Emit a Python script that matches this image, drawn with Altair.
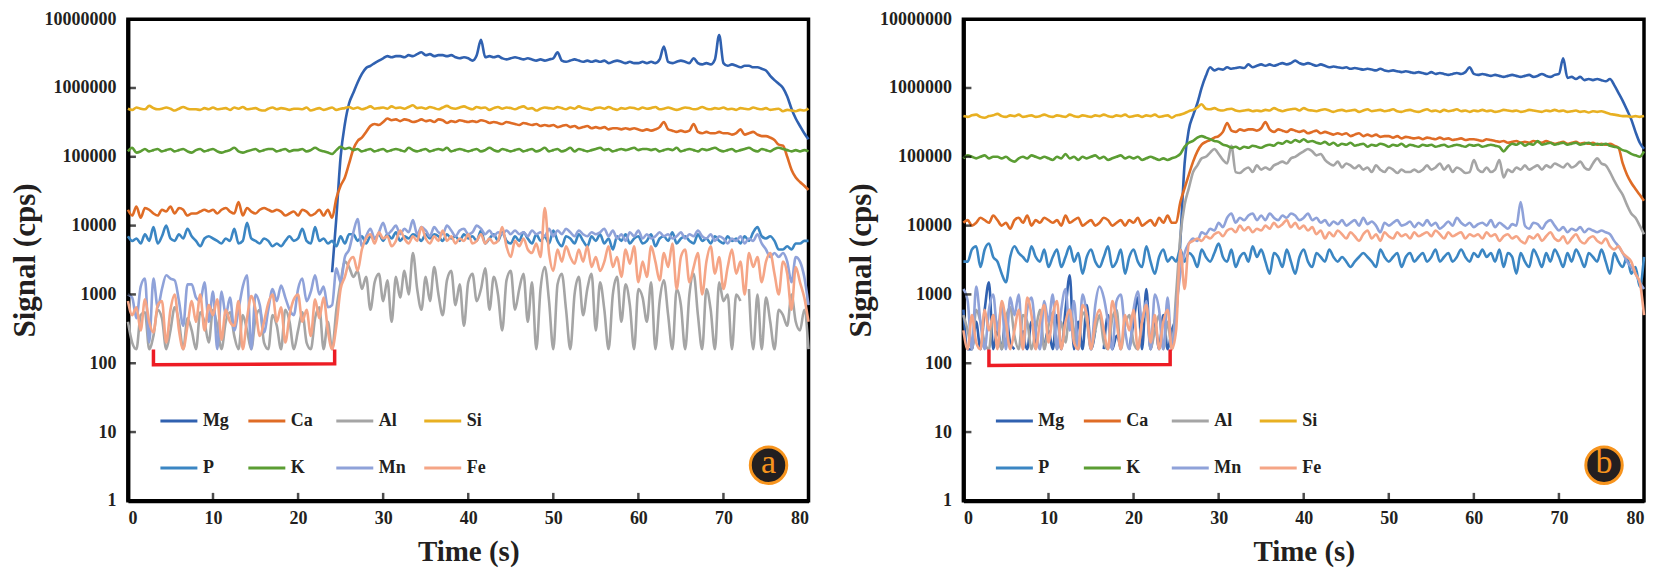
import altair as alt
import pandas as pd

FONT = "Liberation Serif"
ELS = ["Mg", "Ca", "Al", "Si", "P", "K", "Mn", "Fe"]
COLS = ["#3061b0", "#df6c26", "#a5a5a5", "#e8b022", "#3b86c3", "#5b9d33", "#8fa2d9", "#f5a586"]
T = [i * 0.5 for i in range(161)]
X_TICKS = [0, 10, 20, 30, 40, 50, 60, 70, 80]
Y_TICKS = [1, 10, 100, 1000, 10000, 100000, 1000000, 10000000]
X_INNER = [10, 20, 30, 40, 50, 60, 70]
Y_INNER = [10, 100, 1000, 10000, 100000, 1000000]

# ---------------- panel a ----------------
MG_A = [
    None, None, None, None, None, None, None, None, None, None,
    None, None, None, None, None, None, None, None, None, None,
    None, None, None, None, None, None, None, None, None, None,
    None, None, None, None, None, None, None, None, None, None,
    None, None, None, None, None, None, None, None, 2.1e3, 1.3e4,
    1.0e5, 3.0e5, 6.0e5, 8.5e5, 1.2e6, 1.6e6, 1.95e6, 2.1e6, 2.3e6, 2.5e6,
    2.7e6, 2.9e6, 2.8e6, 2.9e6, 2.9e6, 2.8e6, 3.0e6, 2.9e6, 3.1e6, 3.3e6,
    3.0e6, 3.1e6, 2.9e6, 3.0e6, 3.0e6, 2.9e6, 3.0e6, 2.8e6, 2.7e6, 2.8e6,
    2.7e6, 2.5e6, 3.0e6, 5.0e6, 2.8e6, 2.9e6, 2.8e6, 2.9e6, 2.7e6, 2.6e6,
    2.7e6, 2.8e6, 2.7e6, 2.6e6, 2.7e6, 2.6e6, 2.5e6, 2.6e6, 2.5e6, 2.6e6,
    2.7e6, 3.3e6, 2.5e6, 2.4e6, 2.5e6, 2.6e6, 2.5e6, 2.4e6, 2.5e6, 2.4e6,
    2.5e6, 2.4e6, 2.5e6, 2.3e6, 2.4e6, 2.5e6, 2.4e6, 2.3e6, 2.4e6, 2.3e6,
    2.3e6, 2.4e6, 2.3e6, 2.4e6, 2.3e6, 2.6e6, 4.0e6, 2.4e6, 2.3e6, 2.4e6,
    2.5e6, 2.4e6, 2.3e6, 2.7e6, 2.3e6, 2.2e6, 2.3e6, 2.2e6, 2.6e6, 5.9e6,
    2.3e6, 2.1e6, 2.2e6, 2.1e6, 2.0e6, 2.1e6, 2.1e6, 2.0e6, 2.0e6, 1.9e6,
    1.8e6, 1.5e6, 1.3e6, 1.15e6, 1.0e6, 7.5e5, 5.0e5, 3.6e5, 2.8e5, 2.2e5,
    1.8e5]
CA_A = [
    1.7e4, 1.4e4, 1.9e4, 1.3e4, 1.8e4, 1.7e4, 1.5e4, 1.4e4, 1.7e4, 1.6e4,
    1.9e4, 1.5e4, 1.8e4, 1.7e4, 1.4e4, 1.5e4, 1.5e4, 1.6e4, 1.7e4, 1.6e4,
    1.7e4, 1.5e4, 1.7e4, 1.8e4, 1.6e4, 1.5e4, 2.2e4, 1.4e4, 1.8e4, 1.6e4,
    1.5e4, 1.7e4, 1.8e4, 1.7e4, 1.6e4, 1.7e4, 1.6e4, 1.4e4, 1.5e4, 1.6e4,
    1.4e4, 1.7e4, 1.6e4, 1.4e4, 1.5e4, 1.7e4, 1.4e4, 1.7e4, 1.3e4, 2.5e4,
    3.8e4, 5.0e4, 8.0e4, 1.3e5, 1.7e5, 1.9e5, 2.3e5, 2.8e5, 3.0e5, 2.9e5,
    3.2e5, 3.6e5, 3.4e5, 3.5e5, 3.3e5, 3.5e5, 3.4e5, 3.2e5, 3.3e5, 3.5e5,
    3.3e5, 3.4e5, 3.2e5, 3.5e5, 3.4e5, 3.1e5, 3.3e5, 3.2e5, 3.4e5, 3.3e5,
    3.2e5, 3.3e5, 3.2e5, 3.4e5, 3.3e5, 3.1e5, 3.2e5, 3.1e5, 3.0e5, 3.2e5,
    3.1e5, 3.0e5, 2.9e5, 3.1e5, 3.0e5, 2.9e5, 3.0e5, 2.8e5, 2.9e5, 2.8e5,
    2.9e5, 2.7e5, 2.8e5, 2.9e5, 2.7e5, 2.8e5, 2.6e5, 2.7e5, 2.8e5, 2.6e5,
    2.7e5, 2.6e5, 2.7e5, 2.5e5, 2.6e5, 2.6e5, 2.5e5, 2.6e5, 2.5e5, 2.6e5,
    2.5e5, 2.4e5, 2.5e5, 2.4e5, 2.5e5, 2.7e5, 3.2e5, 2.5e5, 2.4e5, 2.3e5,
    2.4e5, 2.3e5, 2.4e5, 3.0e5, 2.3e5, 2.2e5, 2.3e5, 2.2e5, 2.2e5, 2.3e5,
    2.2e5, 2.2e5, 2.1e5, 2.2e5, 2.5e5, 2.1e5, 2.2e5, 2.3e5, 2.1e5, 2.0e5,
    2.0e5, 1.9e5, 1.75e5, 1.5e5, 1.45e5, 1.0e5, 6.5e4, 5.0e4, 4.3e4, 3.8e4,
    3.3e4]
AL_A = [
    4.0e2, 2.0e2, 1.6e2, 5.0e2, 5.5e2, 1.6e2, 2.5e2, 6.0e2, 4.5e2, 1.6e2,
    3.0e2, 6.5e2, 4.0e2, 1.6e2, 4.5e2, 3.0e2, 1.6e2, 5.5e2, 4.0e2, 2.0e2,
    6.0e2, 3.5e2, 1.6e2, 4.0e2, 5.5e2, 2.5e2, 1.6e2, 5.0e2, 3.0e2, 1.6e2,
    4.5e2, 6.0e2, 2.0e2, 1.6e2, 5.0e2, 3.5e2, 1.6e2, 6.0e2, 4.0e2, 1.6e2,
    3.0e2, 5.5e2, 2.0e2, 1.6e2, 4.5e2, 6.5e2, 1.6e2, 4.0e2, 1.6e2, 6.0e2,
    1.5e3, 3.0e3, 2.5e3, 1.8e3, 2.2e3, 1.2e3, 1.8e3, 6.0e2, 1.5e3, 2.0e3,
    8.0e2, 1.6e3, 4.0e2, 1.8e3, 9.0e2, 2.2e3, 1.0e3, 4.0e3, 1.2e3, 6.0e2,
    1.8e3, 8.0e2, 2.5e3, 1.0e3, 5.0e2, 1.6e3, 2.2e3, 7.0e2, 1.4e3, 3.5e2,
    1.5e3, 2.0e3, 8.0e2, 1.2e3, 2.4e3, 6.0e2, 1.8e3, 1.0e3, 3.0e2, 1.6e3,
    2.2e3, 6.0e2, 1.2e3, 2.0e3, 4.0e2, 1.5e3, 1.6e2, 1.2e3, 2.5e3, 8.0e2,
    1.6e2, 1.4e3, 2.0e3, 6.0e2, 1.6e2, 1.0e3, 1.8e3, 5.0e2, 1.2e3, 2.0e3,
    3.0e2, 1.5e3, 6.0e2, 1.6e2, 1.0e3, 1.8e3, 4.0e2, 1.4e3, 7.0e2, 1.6e2,
    1.2e3, 9.0e2, 4.0e2, 1.5e3, 1.6e2, 8.0e2, 1.6e3, 5.0e2, 1.6e2, 1.2e3,
    7.0e2, 1.6e2, 1.0e3, 2.0e3, 5.0e2, 1.6e2, 1.2e3, 6.0e2, 1.6e2, 1.5e3,
    8.0e2, 1.0e3, 1.6e2, 1.0e3, 8.0e2, None, 1.2e3, 1.6e2, 1.0e3, 1.6e2,
    9.0e2, 4.0e2, 1.6e2, 6.0e2, 5.0e2, 3.5e2, 1.0e3, 4.0e2, 3.0e2, 6.0e2,
    1.6e2]
SI_A = [
    5.0e5, 4.8e5, 5.2e5, 5.0e5, 4.9e5, 5.5e5, 5.1e5, 4.9e5, 5.0e5, 5.2e5,
    5.0e5, 4.7e5, 5.0e5, 5.3e5, 5.0e5, 4.9e5, 4.9e5, 4.8e5, 5.1e5, 4.9e5,
    5.2e5, 4.9e5, 5.0e5, 5.1e5, 4.8e5, 5.2e5, 5.0e5, 5.3e5, 4.9e5, 5.0e5,
    5.1e5, 4.8e5, 4.7e5, 5.0e5, 5.2e5, 4.9e5, 5.1e5, 5.0e5, 4.8e5, 5.0e5,
    5.0e5, 4.9e5, 5.2e5, 4.7e5, 4.9e5, 5.1e5, 4.8e5, 5.0e5, 5.2e5, 4.8e5,
    5.0e5, 5.1e5, 5.3e5, 5.0e5, 5.2e5, 4.9e5, 5.1e5, 5.4e5, 5.0e5, 5.1e5,
    5.2e5, 5.0e5, 5.4e5, 5.1e5, 5.2e5, 5.0e5, 5.3e5, 5.6e5, 5.1e5, 5.2e5,
    5.0e5, 5.3e5, 5.1e5, 4.9e5, 5.2e5, 5.5e5, 5.1e5, 5.0e5, 5.2e5, 5.4e5,
    5.1e5, 4.9e5, 5.3e5, 5.1e5, 5.2e5, 4.8e5, 5.1e5, 5.3e5, 5.0e5, 5.2e5,
    5.1e5, 4.9e5, 5.2e5, 5.4e5, 5.0e5, 5.1e5, 4.7e5, 5.0e5, 5.2e5, 5.1e5,
    5.0e5, 5.3e5, 5.1e5, 4.9e5, 5.2e5, 5.0e5, 5.4e5, 5.1e5, 5.0e5, 4.8e5,
    5.1e5, 5.2e5, 5.0e5, 5.3e5, 5.0e5, 4.8e5, 5.1e5, 5.0e5, 5.2e5, 5.1e5,
    4.9e5, 5.2e5, 5.0e5, 5.1e5, 5.3e5, 4.9e5, 5.0e5, 5.2e5, 5.0e5, 4.8e5,
    5.0e5, 5.2e5, 5.1e5, 4.9e5, 5.0e5, 5.3e5, 5.0e5, 4.9e5, 5.1e5, 5.0e5,
    5.2e5, 4.9e5, 5.0e5, 4.8e5, 5.1e5, 5.0e5, 4.9e5, 5.2e5, 5.0e5, 4.9e5,
    5.1e5, 4.8e5, 4.9e5, 5.0e5, 4.6e5, 4.8e5, 4.7e5, 4.6e5, 4.8e5, 4.7e5,
    5.0e5]
P_A = [
    7.0e3, 6.0e3, 6.5e3, 5.5e3, 7.5e3, 6.0e3, 9.5e3, 5.5e3, 7.0e3, 1.0e4,
    6.5e3, 6.0e3, 7.5e3, 6.5e3, 9.0e3, 7.0e3, 6.0e3, 5.0e3, 6.5e3, 7.0e3,
    6.5e3, 6.0e3, 5.5e3, 6.5e3, 6.0e3, 9.0e3, 5.5e3, 6.0e3, 1.1e4, 6.5e3,
    6.0e3, 5.5e3, 6.5e3, 6.0e3, 5.0e3, 5.5e3, 5.0e3, 6.0e3, 7.0e3, 6.0e3,
    6.5e3, 9.0e3, 6.0e3, 5.5e3, 9.5e3, 6.0e3, 6.5e3, 5.5e3, 6.0e3, 5.0e3,
    7.0e3, 5.5e3, 7.5e3, 7.5e3, 6.0e3, 7.0e3, 5.5e3, 7.0e3, 6.5e3, 7.5e3,
    6.0e3, 7.5e3, 6.5e3, 8.0e3, 6.0e3, 7.0e3, 6.5e3, 7.5e3, 7.0e3, 6.0e3,
    7.5e3, 6.5e3, 7.5e3, 7.0e3, 6.0e3, 7.5e3, 6.5e3, 7.0e3, 6.0e3, 7.5e3,
    6.5e3, 7.0e3, 6.0e3, 8.5e3, 5.5e3, 6.5e3, 7.5e3, 6.0e3, 8.0e3, 6.0e3,
    5.5e3, 7.0e3, 6.0e3, 8.0e3, 6.5e3, 5.5e3, 7.5e3, 6.0e3, 7.0e3, 5.5e3,
    8.5e3, 6.0e3, 5.0e3, 7.0e3, 6.5e3, 5.5e3, 7.5e3, 6.0e3, 5.0e3, 7.0e3,
    6.0e3, 7.5e3, 5.5e3, 6.5e3, 4.5e3, 7.0e3, 6.0e3, 7.5e3, 5.5e3, 6.5e3,
    7.0e3, 5.5e3, 6.0e3, 7.5e3, 5.0e3, 6.5e3, 7.0e3, 6.0e3, 8.0e3, 5.5e3,
    6.5e3, 7.0e3, 6.0e3, 5.5e3, 7.5e3, 6.0e3, 6.5e3, 5.5e3, 7.0e3, 6.0e3,
    5.5e3, 7.0e3, 6.0e3, 6.5e3, 5.5e3, 7.0e3, 6.0e3, 8.0e3, 9.5e3, 7.0e3,
    6.5e3, 7.0e3, 6.0e3, 4.5e3, 4.5e3, 5.0e3, 4.5e3, 5.5e3, 5.5e3, 6.0e3,
    6.0e3]
K_A = [
    1.2e5, 1.35e5, 1.15e5, 1.2e5, 1.3e5, 1.2e5, 1.25e5, 1.3e5, 1.2e5, 1.25e5,
    1.3e5, 1.2e5, 1.25e5, 1.3e5, 1.2e5, 1.15e5, 1.25e5, 1.3e5, 1.2e5, 1.25e5,
    1.3e5, 1.2e5, 1.15e5, 1.2e5, 1.25e5, 1.35e5, 1.2e5, 1.15e5, 1.2e5, 1.25e5,
    1.3e5, 1.2e5, 1.25e5, 1.3e5, 1.3e5, 1.2e5, 1.25e5, 1.3e5, 1.2e5, 1.25e5,
    1.25e5, 1.3e5, 1.2e5, 1.25e5, 1.35e5, 1.25e5, 1.2e5, 1.15e5, 1.1e5, 1.25e5,
    1.4e5, 1.3e5, 1.35e5, 1.25e5, 1.3e5, 1.2e5, 1.25e5, 1.3e5, 1.2e5, 1.25e5,
    1.3e5, 1.2e5, 1.25e5, 1.3e5, 1.25e5, 1.2e5, 1.35e5, 1.25e5, 1.2e5, 1.25e5,
    1.3e5, 1.2e5, 1.25e5, 1.3e5, 1.25e5, 1.35e5, 1.2e5, 1.25e5, 1.3e5, 1.25e5,
    1.2e5, 1.25e5, 1.3e5, 1.2e5, 1.25e5, 1.35e5, 1.25e5, 1.2e5, 1.3e5, 1.25e5,
    1.2e5, 1.25e5, 1.3e5, 1.2e5, 1.25e5, 1.3e5, 1.2e5, 1.25e5, 1.35e5, 1.2e5,
    1.25e5, 1.3e5, 1.2e5, 1.25e5, 1.35e5, 1.2e5, 1.3e5, 1.25e5, 1.2e5, 1.25e5,
    1.3e5, 1.35e5, 1.25e5, 1.3e5, 1.2e5, 1.25e5, 1.3e5, 1.25e5, 1.3e5, 1.35e5,
    1.25e5, 1.3e5, 1.3e5, 1.25e5, 1.3e5, 1.2e5, 1.25e5, 1.3e5, 1.25e5, 1.35e5,
    1.2e5, 1.25e5, 1.3e5, 1.25e5, 1.2e5, 1.3e5, 1.25e5, 1.3e5, 1.35e5, 1.25e5,
    1.2e5, 1.25e5, 1.3e5, 1.2e5, 1.25e5, 1.3e5, 1.35e5, 1.25e5, 1.2e5, 1.3e5,
    1.25e5, 1.2e5, 1.3e5, 1.35e5, 1.3e5, 1.25e5, 1.2e5, 1.25e5, 1.2e5, 1.25e5,
    1.2e5]
MN_A = [
    1.0e3, 9.0e2, 4.5e2, 1.3e3, 1.7e3, 2.0e2, 1.7e3, 6.5e2, 1.2e3, 1.9e3,
    1.7e3, 1.6e3, 8.0e2, 3.5e2, 1.4e3, 1.4e3, 9.0e2, 8.0e2, 1.5e3, 4.0e2,
    1.1e3, 1.6e2, 1.1e3, 5.0e2, 9.0e2, 3.0e2, 6.0e2, 1.3e3, 1.9e3, 1.6e2,
    1.0e3, 7.0e2, 2.8e2, 6.0e2, 1.2e3, 8.0e2, 1.35e3, 9.0e2, 6.0e2, 5.0e2,
    1.2e3, 1.7e3, 8.0e2, 1.1e3, 1.9e3, 1.0e3, 1.3e3, 6.5e2, 7.0e2, 2.4e3,
    1.5e3, 3.5e3, 4.5e3, 8.0e3, 1.25e4, 5.0e3, 7.0e3, 9.0e3, 6.5e3, 8.0e3,
    1.1e4, 7.5e3, 8.5e3, 1.0e4, 7.5e3, 9.0e3, 8.0e3, 1.2e4, 7.5e3, 9.5e3,
    8.5e3, 7.0e3, 9.5e3, 8.0e3, 7.5e3, 1.0e4, 8.5e3, 7.0e3, 8.5e3, 9.0e3,
    7.5e3, 8.0e3, 1.0e4, 9.0e3, 7.5e3, 8.5e3, 7.0e3, 8.0e3, 7.5e3, 8.5e3,
    7.5e3, 8.5e3, 7.5e3, 8.0e3, 7.0e3, 8.5e3, 7.5e3, 8.0e3, 7.0e3, 9.0e3,
    7.0e3, 8.5e3, 7.5e3, 9.0e3, 8.0e3, 7.0e3, 8.5e3, 7.5e3, 7.0e3, 8.0e3,
    7.5e3, 8.0e3, 9.0e3, 7.0e3, 8.5e3, 6.5e3, 7.5e3, 6.0e3, 8.0e3, 7.0e3,
    8.5e3, 6.5e3, 7.5e3, 6.5e3, 7.0e3, 8.0e3, 7.0e3, 7.5e3, 6.5e3, 7.0e3,
    8.0e3, 6.5e3, 7.5e3, 7.0e3, 8.5e3, 7.0e3, 6.5e3, 7.5e3, 6.0e3, 7.0e3,
    6.5e3, 5.5e3, 6.5e3, 6.0e3, 7.0e3, 5.5e3, 6.5e3, 6.0e3, 7.5e3, 5.5e3,
    4.5e3, 3.5e3, 4.0e3, 3.5e3, 4.0e3, 3.0e3, 1.5e3, 3.5e3, 3.0e3, 1.8e3,
    7.0e2]
FE_A = [
    8.0e2, 5.0e2, 6.5e2, 3.0e2, 8.5e2, 4.0e2, 2.8e2, 7.0e2, 8.0e2, 2.0e2,
    6.0e2, 1.0e3, 3.0e2, 1.6e2, 3.5e2, 8.0e2, 4.0e2, 1.0e3, 3.0e2, 7.0e2,
    5.0e2, 8.5e2, 2.2e2, 6.0e2, 4.0e2, 3.5e2, 8.0e2, 1.6e2, 4.5e2, 9.5e2,
    6.0e2, 2.5e2, 4.0e2, 7.5e2, 1.0e3, 4.0e2, 6.5e2, 2.0e2, 5.0e2, 8.5e2,
    1.0e3, 4.0e2, 6.0e2, 2.5e2, 8.5e2, 4.5e2, 9.0e2, 3.0e2, 1.6e2, 3.5e2,
    1.2e3, 1.8e3, 3.0e3, 3.5e3, 2.2e3, 4.5e3, 6.5e3, 7.5e3, 5.5e3, 8.0e3,
    6.5e3, 7.0e3, 5.0e3, 6.0e3, 8.5e3, 6.5e3, 5.5e3, 7.0e3, 6.0e3, 9.5e3,
    6.5e3, 5.5e3, 7.0e3, 6.0e3, 8.5e3, 6.0e3, 7.0e3, 5.5e3, 6.5e3, 6.0e3,
    7.5e3, 5.5e3, 6.0e3, 7.5e3, 5.5e3, 6.5e3, 5.5e3, 6.0e3, 9.5e3, 5.0e3,
    3.5e3, 6.0e3, 5.0e3, 6.5e3, 4.5e3, 4.0e3, 5.5e3, 3.5e3, 1.8e4, 4.0e3,
    2.2e3, 4.5e3, 3.0e3, 5.0e3, 3.5e3, 2.8e3, 4.5e3, 3.0e3, 5.0e3, 2.5e3,
    3.5e3, 2.2e3, 3.0e3, 5.0e3, 2.5e3, 3.5e3, 1.8e3, 4.5e3, 2.8e3, 5.0e3,
    1.5e3, 3.0e3, 1.8e3, 5.0e3, 3.0e3, 1.6e3, 4.0e3, 2.5e3, 5.5e3, 1.2e3,
    3.5e3, 4.5e3, 1.5e3, 2.5e3, 4.0e3, 1.0e3, 3.0e3, 5.0e3, 2.0e3, 3.5e3,
    1.2e3, 2.5e3, 4.5e3, 2.0e3, 3.0e3, 1.0e3, 4.0e3, 2.5e3, 3.5e3, 1.5e3,
    3.0e3, 4.0e3, 2.0e3, 1.0e3, 3.0e3, 2.0e3, 6.0e2, 2.5e3, 1.5e3, 9.0e2,
    4.0e2]

# ---------------- panel b ----------------
MG_B = [
    6.0e2, 1.6e2, 1.6e2, 4.0e2, 1.6e2, 6.0e2, 1.5e3, 1.6e2, 3.0e2, 1.6e2,
    5.0e2, 2.0e2, 1.6e2, None, 3.0e2, 1.6e2, 4.0e2, 1.6e2, None, 1.6e2,
    3.0e2, 1.6e2, 5.0e2, 1.6e2, 6.0e2, 1.9e3, 1.6e2, 4.0e2, 1.6e2, 7.0e2,
    1.6e2, 3.0e2, None, 1.6e2, 5.0e2, 1.6e2, 2.5e2, 1.6e2, None, 1.6e2,
    4.0e2, 9.0e2, 1.6e2, 1.2e3, 1.6e2, 4.0e2, 1.6e2, 5.0e2, 1.6e2, 3.0e2,
    5.0e2, 6.0e3, 8.0e4, 2.5e5, 4.0e5, 6.0e5, 1.0e6, 1.5e6, 2.0e6, 1.8e6,
    1.9e6, 1.85e6, 2.0e6, 1.9e6, 1.95e6, 2.0e6, 1.95e6, 2.2e6, 2.0e6, 2.1e6,
    2.2e6, 2.1e6, 2.2e6, 2.1e6, 2.2e6, 2.3e6, 2.2e6, 2.3e6, 2.5e6, 2.3e6,
    2.2e6, 2.3e6, 2.2e6, 2.1e6, 2.2e6, 2.1e6, 2.0e6, 2.05e6, 2.0e6, 1.95e6,
    2.0e6, 1.9e6, 1.95e6, 1.9e6, 1.85e6, 1.9e6, 1.85e6, 1.8e6, 1.9e6, 1.8e6,
    1.75e6, 1.8e6, 1.75e6, 1.7e6, 1.75e6, 1.7e6, 1.65e6, 1.7e6, 1.65e6, 1.6e6,
    1.7e6, 1.6e6, 1.65e6, 1.6e6, 1.55e6, 1.6e6, 1.65e6, 1.6e6, 1.7e6, 2.0e6,
    1.6e6, 1.55e6, 1.6e6, 1.55e6, 1.5e6, 1.55e6, 1.5e6, 1.45e6, 1.5e6, 1.55e6,
    1.5e6, 1.45e6, 1.5e6, 1.55e6, 1.45e6, 1.5e6, 1.6e6, 1.5e6, 1.45e6, 1.55e6,
    1.6e6, 2.7e6, 1.4e6, 1.45e6, 1.35e6, 1.45e6, 1.3e6, 1.35e6, 1.3e6, 1.35e6,
    1.3e6, 1.25e6, 1.35e6, 1.1e6, 8.5e5, 6.5e5, 4.8e5, 3.5e5, 2.3e5, 1.6e5,
    1.3e5]
CA_B = [
    1.1e4, 1.2e4, 1.0e4, 1.1e4, 1.3e4, 1.2e4, 1.1e4, 1.4e4, 1.2e4, 1.0e4,
    1.1e4, 9.0e3, 1.2e4, 1.3e4, 1.1e4, 1.4e4, 1.0e4, 1.2e4, 1.1e4, 1.3e4,
    1.2e4, 1.1e4, 1.2e4, 1.0e4, 1.4e4, 1.1e4, 1.2e4, 1.3e4, 1.0e4, 1.1e4,
    1.2e4, 1.0e4, 1.1e4, 1.3e4, 1.2e4, 1.0e4, 1.1e4, 1.2e4, 1.0e4, 1.2e4,
    1.1e4, 1.3e4, 1.0e4, 1.1e4, 1.2e4, 1.0e4, 1.3e4, 1.1e4, 1.4e4, 1.1e4,
    1.1e4, 2.2e4, 3.5e4, 5.5e4, 8.5e4, 1.2e5, 1.5e5, 1.65e5, 1.75e5, 1.9e5,
    2.0e5, 2.3e5, 3.1e5, 2.4e5, 2.3e5, 2.5e5, 2.4e5, 2.5e5, 2.5e5, 2.4e5,
    2.6e5, 3.2e5, 2.5e5, 2.3e5, 2.5e5, 2.4e5, 2.3e5, 2.5e5, 2.4e5, 2.3e5,
    2.4e5, 2.2e5, 2.3e5, 2.4e5, 2.2e5, 2.3e5, 2.2e5, 2.1e5, 2.2e5, 2.1e5,
    2.2e5, 2.0e5, 2.1e5, 2.2e5, 2.0e5, 2.1e5, 2.0e5, 2.1e5, 1.95e5, 2.0e5,
    2.0e5, 1.9e5, 2.0e5, 1.85e5, 1.95e5, 1.9e5, 1.85e5, 1.9e5, 1.8e5, 1.9e5,
    1.85e5, 1.8e5, 1.9e5, 1.8e5, 1.85e5, 1.75e5, 1.8e5, 1.85e5, 1.75e5, 1.8e5,
    1.8e5, 1.75e5, 1.7e5, 1.8e5, 1.75e5, 1.7e5, 1.65e5, 1.7e5, 1.6e5, 1.65e5,
    1.7e5, 1.6e5, 1.65e5, 1.6e5, 1.7e5, 1.65e5, 1.6e5, 1.7e5, 1.6e5, 1.55e5,
    1.6e5, 1.65e5, 1.55e5, 1.6e5, 1.65e5, 1.55e5, 1.6e5, 1.55e5, 1.6e5, 1.5e5,
    1.55e5, 1.5e5, 1.55e5, 1.45e5, 1.35e5, 8.0e4, 5.5e4, 4.2e4, 3.4e4, 2.8e4,
    2.3e4]
AL_B = [
    5.0e2, 3.0e2, 1.6e2, 6.0e2, 4.0e2, 2.0e2, 1.6e2, 5.0e2, 3.5e2, 1.6e2,
    4.5e2, 6.5e2, 2.5e2, 1.6e2, 5.0e2, 4.0e2, 1.6e2, 3.0e2, 6.0e2, 1.6e2,
    3.5e2, 5.5e2, 1.6e2, 4.0e2, 2.0e2, 6.0e2, 3.0e2, 1.6e2, 5.5e2, 4.0e2,
    1.6e2, 3.0e2, 5.0e2, 2.0e2, 1.6e2, 4.5e2, 6.0e2, 1.6e2, 3.5e2, 5.0e2,
    2.0e2, 1.6e2, 4.0e2, 6.5e2, 1.6e2, 3.0e2, 5.0e2, 1.6e2, 4.0e2, 1.6e2,
    1.0e3, 7.0e3, 2.0e4, 3.5e4, 6.0e4, 7.5e4, 9.5e4, 1.0e5, 1.15e5, 1.3e5,
    1.1e5, 9.0e4, 8.0e4, 1.45e5, 6.0e4, 5.8e4, 6.5e4, 7.0e4, 6.0e4, 7.5e4,
    6.5e4, 7.0e4, 6.5e4, 7.5e4, 8.0e4, 8.5e4, 8.0e4, 9.5e4, 1.0e5, 1.1e5,
    1.2e5, 1.3e5, 1.2e5, 1.05e5, 1.1e5, 9.0e4, 8.0e4, 7.5e4, 8.5e4, 7.0e4,
    8.0e4, 7.5e4, 6.8e4, 7.5e4, 6.5e4, 7.0e4, 6.0e4, 7.5e4, 6.5e4, 6.0e4,
    7.0e4, 6.5e4, 5.8e4, 6.5e4, 6.0e4, 6.0e4, 6.5e4, 6.0e4, 6.5e4, 7.5e4,
    6.5e4, 7.0e4, 8.0e4, 6.5e4, 7.5e4, 6.0e4, 7.0e4, 6.5e4, 5.8e4, 6.0e4,
    9.0e4, 6.5e4, 6.0e4, 7.0e4, 6.0e4, 6.5e4, 9.0e4, 5.0e4, 6.5e4, 6.0e4,
    7.0e4, 6.5e4, 7.5e4, 6.5e4, 7.0e4, 7.5e4, 6.5e4, 7.5e4, 7.0e4, 8.0e4,
    7.5e4, 7.0e4, 8.0e4, 7.0e4, 7.5e4, 8.5e4, 7.0e4, 6.5e4, 8.0e4, 9.5e4,
    8.0e4, 7.5e4, 6.0e4, 4.5e4, 3.5e4, 2.8e4, 2.0e4, 1.5e4, 1.3e4, 1.0e4,
    7.5e3]
SI_B = [
    3.9e5, 3.8e5, 4.0e5, 4.1e5, 3.8e5, 3.7e5, 3.9e5, 4.0e5, 4.2e5, 3.9e5,
    3.8e5, 4.0e5, 3.9e5, 4.1e5, 3.8e5, 3.9e5, 4.0e5, 3.8e5, 3.9e5, 4.1e5,
    3.9e5, 3.8e5, 4.0e5, 3.9e5, 3.8e5, 4.1e5, 3.9e5, 3.8e5, 4.0e5, 3.9e5,
    3.8e5, 4.0e5, 3.9e5, 4.1e5, 3.9e5, 3.8e5, 4.0e5, 3.9e5, 4.1e5, 3.8e5,
    3.9e5, 4.0e5, 3.8e5, 4.0e5, 3.9e5, 4.1e5, 3.8e5, 3.9e5, 4.0e5, 3.7e5,
    4.0e5, 4.1e5, 4.3e5, 4.6e5, 4.8e5, 5.2e5, 5.8e5, 5.0e5, 4.9e5, 5.1e5,
    4.8e5, 4.7e5, 4.9e5, 5.0e5, 4.7e5, 4.6e5, 4.7e5, 4.8e5, 4.6e5, 4.7e5,
    4.6e5, 4.8e5, 4.7e5, 5.1e5, 4.8e5, 4.6e5, 4.8e5, 4.9e5, 5.0e5, 4.7e5,
    5.1e5, 4.8e5, 4.7e5, 4.6e5, 4.8e5, 4.9e5, 4.7e5, 4.5e5, 4.7e5, 4.8e5,
    4.6e5, 4.7e5, 4.8e5, 4.5e5, 4.7e5, 4.9e5, 4.6e5, 4.7e5, 4.8e5, 4.6e5,
    4.7e5, 4.9e5, 4.6e5, 4.5e5, 4.7e5, 4.8e5, 4.6e5, 4.5e5, 4.7e5, 4.9e5,
    4.6e5, 4.7e5, 4.5e5, 4.8e5, 4.6e5, 4.7e5, 4.9e5, 4.6e5, 4.7e5, 4.5e5,
    4.7e5, 4.6e5, 4.8e5, 4.6e5, 4.7e5, 4.5e5, 4.6e5, 4.8e5, 4.7e5, 4.6e5,
    4.7e5, 4.5e5, 4.6e5, 4.8e5, 4.7e5, 4.6e5, 4.5e5, 4.7e5, 4.6e5, 4.8e5,
    4.6e5, 4.7e5, 4.5e5, 4.6e5, 4.7e5, 4.5e5, 4.6e5, 4.4e5, 4.6e5, 4.5e5,
    4.6e5, 4.4e5, 4.2e5, 4.1e5, 4.0e5, 3.9e5, 3.9e5, 3.8e5, 3.9e5, 3.8e5,
    3.9e5]
P_B = [
    3.0e3, 3.0e3, 4.5e3, 5.0e3, 2.5e3, 4.5e3, 5.5e3, 3.5e3, 3.0e3, 2.0e3,
    1.5e3, 3.5e3, 5.0e3, 4.0e3, 3.5e3, 3.0e3, 5.0e3, 3.5e3, 3.0e3, 4.5e3,
    2.5e3, 3.5e3, 4.5e3, 2.5e3, 3.5e3, 5.0e3, 3.0e3, 4.0e3, 2.0e3, 3.5e3,
    4.5e3, 3.0e3, 2.5e3, 3.5e3, 5.0e3, 2.5e3, 3.0e3, 4.5e3, 2.0e3, 3.5e3,
    4.5e3, 3.0e3, 2.5e3, 5.0e3, 3.0e3, 2.0e3, 3.5e3, 4.5e3, 3.0e3, 3.5e3,
    3.0e3, 4.5e3, 3.0e3, 4.0e3, 3.5e3, 2.5e3, 4.5e3, 3.5e3, 3.0e3, 4.0e3,
    5.5e3, 3.5e3, 3.0e3, 4.5e3, 2.5e3, 3.5e3, 4.0e3, 3.0e3, 5.0e3, 3.5e3,
    4.5e3, 3.0e3, 2.0e3, 4.0e3, 3.5e3, 2.5e3, 4.5e3, 3.0e3, 2.0e3, 3.5e3,
    4.5e3, 3.0e3, 2.5e3, 4.0e3, 3.5e3, 3.0e3, 4.5e3, 3.5e3, 3.0e3, 3.5e3,
    3.0e3, 2.5e3, 3.0e3, 3.5e3, 4.0e3, 3.5e3, 3.0e3, 2.5e3, 4.5e3, 3.5e3,
    3.0e3, 3.5e3, 4.0e3, 2.5e3, 3.5e3, 4.0e3, 3.0e3, 3.5e3, 4.0e3, 3.0e3,
    3.5e3, 4.5e3, 3.0e3, 3.5e3, 4.0e3, 3.0e3, 3.5e3, 4.5e3, 3.5e3, 3.0e3,
    4.0e3, 3.5e3, 4.5e3, 3.5e3, 4.0e3, 3.0e3, 4.5e3, 2.5e3, 4.0e3, 3.5e3,
    2.0e3, 4.0e3, 3.0e3, 2.5e3, 4.5e3, 3.5e3, 2.5e3, 4.0e3, 3.0e3, 4.5e3,
    3.5e3, 2.5e3, 4.0e3, 3.0e3, 4.5e3, 3.5e3, 2.5e3, 4.0e3, 3.5e3, 3.0e3,
    4.5e3, 3.0e3, 2.0e3, 4.0e3, 3.0e3, 2.5e3, 3.5e3, 2.0e3, 2.5e3, 1.3e3,
    3.5e3]
K_B = [
    9.5e4, 1.05e5, 1.0e5, 9.5e4, 1.0e5, 1.05e5, 9.5e4, 1.0e5, 1.0e5, 9.5e4,
    1.0e5, 9.0e4, 8.5e4, 9.5e4, 1.0e5, 9.5e4, 1.05e5, 1.0e5, 9.5e4, 1.0e5,
    9.5e4, 9.0e4, 1.0e5, 9.5e4, 1.1e5, 9.5e4, 1.0e5, 9.0e4, 1.0e5, 9.5e4,
    1.0e5, 1.05e5, 9.5e4, 1.0e5, 9.0e4, 9.5e4, 1.0e5, 1.05e5, 9.5e4, 1.0e5,
    9.5e4, 1.0e5, 9.0e4, 9.5e4, 1.0e5, 9.5e4, 9.0e4, 9.5e4, 9.0e4, 9.5e4,
    1.0e5, 1.1e5, 1.4e5, 1.6e5, 1.7e5, 1.9e5, 2.0e5, 1.9e5, 1.8e5, 1.7e5,
    1.65e5, 1.5e5, 1.45e5, 1.35e5, 1.4e5, 1.3e5, 1.4e5, 1.35e5, 1.45e5, 1.4e5,
    1.35e5, 1.45e5, 1.5e5, 1.45e5, 1.6e5, 1.55e5, 1.7e5, 1.6e5, 1.75e5, 1.65e5,
    1.8e5, 1.65e5, 1.7e5, 1.6e5, 1.55e5, 1.65e5, 1.5e5, 1.6e5, 1.45e5, 1.55e5,
    1.5e5, 1.6e5, 1.45e5, 1.5e5, 1.55e5, 1.4e5, 1.5e5, 1.45e5, 1.55e5, 1.5e5,
    1.4e5, 1.5e5, 1.45e5, 1.55e5, 1.4e5, 1.5e5, 1.45e5, 1.4e5, 1.5e5, 1.45e5,
    1.5e5, 1.4e5, 1.45e5, 1.5e5, 1.4e5, 1.45e5, 1.5e5, 1.45e5, 1.4e5, 1.5e5,
    1.45e5, 1.5e5, 1.4e5, 1.45e5, 1.5e5, 1.45e5, 1.4e5, 1.2e5, 1.4e5, 1.55e5,
    1.5e5, 1.6e5, 1.45e5, 1.55e5, 1.5e5, 1.7e5, 1.5e5, 1.55e5, 1.6e5, 1.5e5,
    1.55e5, 1.6e5, 1.5e5, 1.55e5, 1.6e5, 1.5e5, 1.55e5, 1.6e5, 1.5e5, 1.55e5,
    1.5e5, 1.55e5, 1.45e5, 1.4e5, 1.35e5, 1.25e5, 1.2e5, 1.1e5, 1.05e5, 1.0e5,
    1.2e5]
MN_B = [
    1.2e3, 8.0e2, 1.6e2, 1.3e3, 4.0e2, 1.6e2, 6.0e2, 1.0e3, 3.0e2, 7.0e2,
    1.6e2, 9.0e2, 5.0e2, 1.0e3, 1.6e2, 6.0e2, 9.0e2, 3.0e2, 1.6e2, 8.0e2,
    4.0e2, 1.0e3, 1.6e2, 6.0e2, 1.2e3, 3.0e2, 8.0e2, 1.6e2, 1.0e3, 5.0e2,
    1.6e2, 7.0e2, 1.3e3, 9.0e2, 4.0e2, 1.6e2, 8.0e2, 1.0e3, 3.0e2, 1.6e2,
    6.0e2, 1.1e3, 4.0e2, 8.0e2, 1.6e2, 1.0e3, 6.0e2, 1.6e2, 9.0e2, 1.6e2,
    6.0e2, 2.0e3, 4.0e3, 5.5e3, 6.5e3, 6.0e3, 8.0e3, 7.5e3, 9.0e3, 8.5e3,
    1.1e4, 9.5e3, 1.3e4, 1.5e4, 1.1e4, 1.3e4, 1.2e4, 1.4e4, 1.5e4, 1.2e4,
    1.4e4, 1.2e4, 1.5e4, 1.3e4, 1.2e4, 1.4e4, 1.3e4, 1.5e4, 1.4e4, 1.2e4,
    1.3e4, 1.5e4, 1.2e4, 1.3e4, 1.1e4, 1.2e4, 1.0e4, 1.15e4, 1.05e4, 1.2e4,
    1.0e4, 1.1e4, 1.2e4, 1.0e4, 1.3e4, 1.05e4, 1.15e4, 1.0e4, 8.0e3, 1.1e4,
    1.0e4, 1.1e4, 1.2e4, 1.0e4, 1.05e4, 1.15e4, 9.5e3, 1.1e4, 1.0e4, 1.2e4,
    1.0e4, 1.1e4, 9.0e3, 1.0e4, 1.15e4, 1.0e4, 1.3e4, 1.1e4, 1.0e4, 1.1e4,
    9.5e3, 1.05e4, 1.1e4, 1.0e4, 1.2e4, 9.5e3, 1.1e4, 1.0e4, 9.0e3, 1.05e4,
    1.0e4, 2.2e4, 1.0e4, 9.0e3, 1.1e4, 1.05e4, 9.0e3, 1.1e4, 1.2e4, 1.0e4,
    8.5e3, 9.5e3, 8.0e3, 9.0e3, 8.5e3, 9.5e3, 8.0e3, 9.0e3, 8.5e3, 8.0e3,
    8.5e3, 8.0e3, 7.5e3, 6.0e3, 5.0e3, 4.0e3, 3.0e3, 2.5e3, 2.0e3, 1.5e3,
    1.2e3]
FE_B = [
    3.0e2, 1.6e2, 5.0e2, 2.0e2, 1.6e2, 6.0e2, 3.0e2, 5.0e2, 1.6e2, 8.0e2,
    4.0e2, 1.6e2, 3.0e2, 6.0e2, 1.6e2, 9.0e2, 5.0e2, 1.6e2, 4.0e2, 7.0e2,
    2.0e2, 5.0e2, 8.0e2, 1.6e2, 4.0e2, 6.0e2, 2.0e2, 1.6e2, 7.0e2, 5.0e2,
    1.6e2, 4.0e2, 6.0e2, 3.0e2, 1.6e2, 8.0e2, 4.0e2, 1.6e2, 5.0e2, 3.0e2,
    6.0e2, 1.6e2, 4.0e2, 7.0e2, 2.0e2, 5.0e2, 1.6e2, 4.0e2, 6.0e2, 1.6e2,
    3.0e2, 4.5e3, 1.2e3, 5.5e3, 6.0e3, 6.5e3, 6.0e3, 7.0e3, 6.5e3, 7.5e3,
    8.0e3, 7.0e3, 8.5e3, 9.0e3, 8.0e3, 1.0e4, 8.5e3, 9.5e3, 8.0e3, 9.0e3,
    8.5e3, 1.0e4, 9.0e3, 1.1e4, 9.5e3, 1.05e4, 1.2e4, 9.5e3, 1.1e4, 9.0e3,
    1.0e4, 8.5e3, 9.5e3, 7.5e3, 8.5e3, 6.5e3, 8.0e3, 7.0e3, 8.5e3, 7.5e3,
    6.5e3, 8.0e3, 7.0e3, 6.0e3, 7.5e3, 8.5e3, 6.5e3, 7.5e3, 6.0e3, 8.0e3,
    7.0e3, 6.5e3, 8.0e3, 7.0e3, 7.5e3, 6.5e3, 8.0e3, 7.0e3, 7.5e3, 8.0e3,
    7.0e3, 8.5e3, 7.5e3, 6.5e3, 8.0e3, 7.0e3, 7.5e3, 8.0e3, 6.5e3, 7.5e3,
    7.0e3, 7.5e3, 6.5e3, 8.0e3, 7.0e3, 7.5e3, 6.0e3, 7.0e3, 7.5e3, 6.5e3,
    7.0e3, 6.0e3, 5.5e3, 7.0e3, 6.5e3, 7.5e3, 6.0e3, 7.0e3, 8.0e3, 6.5e3,
    6.0e3, 7.0e3, 5.5e3, 6.5e3, 7.5e3, 6.0e3, 5.5e3, 6.5e3, 7.0e3, 6.0e3,
    5.5e3, 6.5e3, 5.0e3, 4.5e3, 5.0e3, 4.0e3, 3.5e3, 3.0e3, 2.0e3, 1.5e3,
    5.0e2]

SERIES_A = {"Mg": MG_A, "Ca": CA_A, "Al": AL_A, "Si": SI_A, "P": P_A, "K": K_A, "Mn": MN_A, "Fe": FE_A}
SERIES_B = {"Mg": MG_B, "Ca": CA_B, "Al": AL_B, "Si": SI_B, "P": P_B, "K": K_B, "Mn": MN_B, "Fe": FE_B}

# red bracket marking the gas blank interval, and the panel badge
BR_T = [3.0, 3.0, 24.3, 24.3]
BR_A = [158, 95, 98, 158]
BR_B = [158, 93, 96, 158]
BADGE_T = [75.3]
BADGE_V = [3.3]

W, H = 681, 482


def panel(series, br_v, letter):
    rows = []
    for el in ELS:
        for t, v in zip(T, series[el]):
            rows.append({"t": t, "v": v, "el": el})
    df = pd.DataFrame(rows)

    x = alt.X("t:Q", scale=alt.Scale(domain=[0, 80], nice=False, zero=False),
              axis=alt.Axis(values=X_TICKS, title="Time (s)", format="d"))
    y = alt.Y("v:Q", scale=alt.Scale(type="log", domain=[1, 1e7], nice=False),
              axis=alt.Axis(values=Y_TICKS, title="Signal (cps)", format="d"))

    legend = alt.Legend(orient="none", legendX=31, legendY=382, direction="horizontal",
                        columns=4, title=None, symbolType="stroke", symbolSize=1369,
                        symbolStrokeWidth=3, labelFont=FONT, labelFontSize=18,
                        labelFontWeight="bold", labelColor="#231f20", labelOffset=4,
                        columnPadding=12, rowPadding=18, gridAlign="all", padding=0)

    lines = alt.Chart(df).mark_line(
        strokeWidth=2.6, interpolate="monotone", invalid="break-paths-filter-domains"
    ).encode(
        x=x, y=y,
        color=alt.Color("el:N", scale=alt.Scale(domain=ELS, range=COLS), legend=legend),
    )

    bracket = alt.Chart(pd.DataFrame({"t": BR_T, "v": br_v, "i": [0, 1, 2, 3]})).mark_line(
        color="#ed1c24", strokeWidth=3.5
    ).encode(x=x, y=y, order=alt.Order("i:Q"))

    xt = alt.Chart(pd.DataFrame({"t": X_INNER, "v": [1.0] * len(X_INNER)})).mark_tick(
        orient="vertical", size=8, thickness=2.5, color="black", yOffset=-4
    ).encode(x=x, y=y)
    yt = alt.Chart(pd.DataFrame({"t": [0.0] * len(Y_INNER), "v": Y_INNER})).mark_tick(
        orient="horizontal", size=8, thickness=2.5, color="black", xOffset=4
    ).encode(x=x, y=y)

    bdf = pd.DataFrame({"t": BADGE_T, "v": BADGE_V, "lab": [letter]})
    circ = alt.Chart(bdf).mark_circle(
        size=1330, color="#231f20", opacity=1, stroke="#f7941d", strokeWidth=3
    ).encode(x=x, y=y)
    txt = alt.Chart(bdf).mark_text(
        font=FONT, fontSize=34, color="#f7941d", baseline="middle", align="center", dy=-2
    ).encode(x=x, y=y, text="lab:N")

    return alt.layer(lines, bracket, xt, yt, circ, txt).properties(width=W, height=H)


pa = panel(SERIES_A, BR_A, "a")
pb = panel(SERIES_B, BR_B, "b")

chart = alt.hconcat(pa, pb, spacing=28).resolve_scale(color="independent").properties(
    padding=0, background="white"
).configure_view(
    stroke="black", strokeWidth=3.5
).configure_axis(
    grid=False, ticks=False, domainColor="black", domainWidth=4,
    labelFont=FONT, labelFontSize=18, labelFontWeight="bold", labelColor="#231f20",
    titleFont=FONT, titleFontWeight="bold", titleColor="#231f20"
).configure_axisX(
    labelPadding=9, titleFontSize=29, titlePadding=10
).configure_axisY(
    labelPadding=12, titleFontSize=31, titlePadding=2
)

chart.save("out.html", embed_options={"renderer": "svg", "actions": False})
